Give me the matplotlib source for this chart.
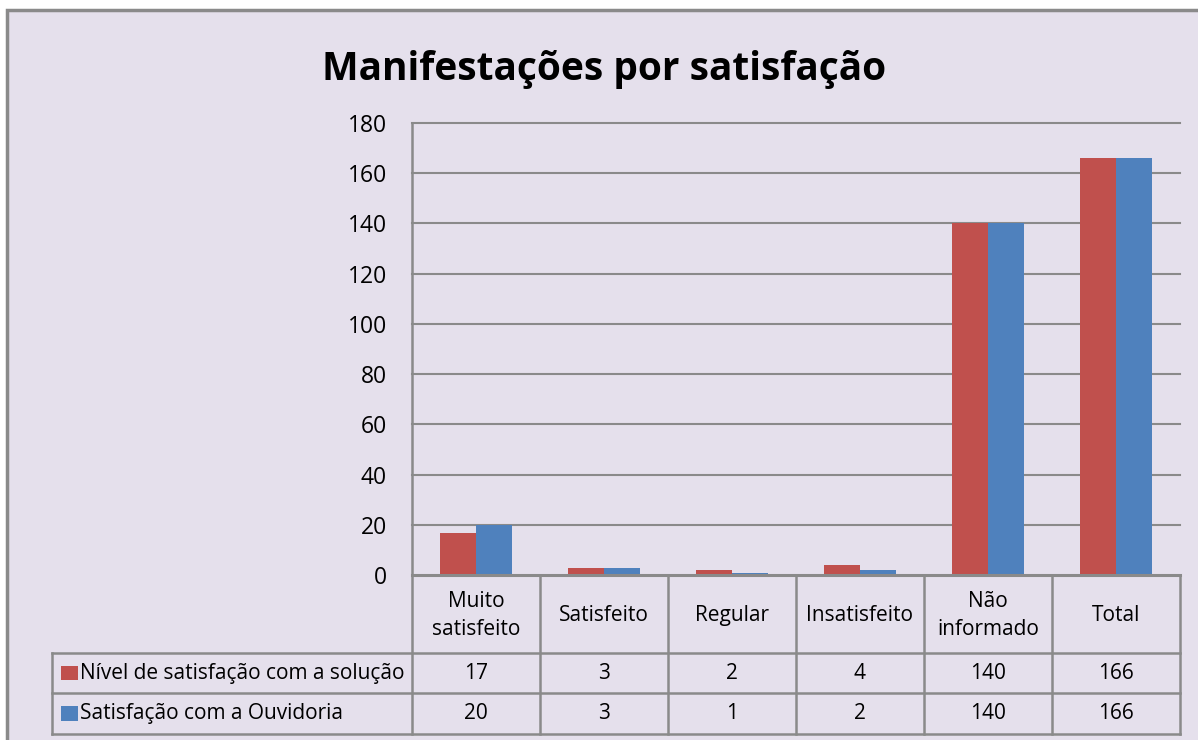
import matplotlib.pyplot as plt
import numpy as np
from matplotlib.patches import Rectangle

categorias = ['Muito\nsatisfeito', 'Satisfeito', 'Regular', 'Insatisfeito', 'Não\ninformado', 'Total']
series = ['Nível de satisfação com a solução', 'Satisfação com a Ouvidoria']
solucao = [17, 3, 2, 4, 140, 166]
ouvidoria = [20, 3, 1, 2, 140, 166]
cores = ['#C0504D', '#4F81BD']
yticks = list(range(0, 181, 20))

plt.rcParams['font.family'] = ['Open Sans', 'DejaVu Sans']

W, H = 1198, 740
fundo = '#E5E0EC'
cinza = '#8A8A8A'

fig = plt.figure(figsize=(W / 100, H / 100), dpi=100, facecolor='white')

# moldura do gráfico (estilo Excel)
fig.patches.append(Rectangle((7 / W, -0.02), 1.02 - 7 / W, 1.02 - 10 / H, transform=fig.transFigure,
                             facecolor=fundo, edgecolor=cinza, linewidth=2.5, zorder=-10))

fig.text(604 / W, 1 - 80 / H, 'Manifestações por satisfação', ha='center', va='baseline',
         fontsize=28, fontweight='bold')

# área do gráfico
ax = fig.add_axes([412 / W, 1 - 575.4 / H, 768 / W, 452.7 / H])
ax.set_facecolor('none')
x = np.arange(len(categorias))
w = 0.285
ax.bar(x - w / 2, solucao, w, color=cores[0], zorder=3)
ax.bar(x + w / 2, ouvidoria, w, color=cores[1], zorder=3)
for t in yticks[1:]:
    ax.axhline(t, color=cinza, lw=1.5, clip_on=False, zorder=1)
ax.set_xlim(-0.5, len(categorias) - 0.5)
ax.set_ylim(0, 180)
ax.set_yticks(yticks)
ax.set_xticks([])
ax.tick_params(axis='y', length=0, pad=18, labelsize=16.5)
for s in ['top', 'right']:
    ax.spines[s].set_visible(False)
ax.spines['left'].set_color(cinza)
ax.spines['left'].set_linewidth(1.8)
ax.spines['bottom'].set_color(cinza)
ax.spines['bottom'].set_linewidth(2.2)
ax.spines['bottom'].set_zorder(4)

# tabela de dados
esq = -3.3125
tax = fig.add_axes([52 / W, 1 - 734 / H, 1128 / W, 158 / H])
tax.set_xlim(esq, len(categorias) - 0.5)
tax.set_ylim(0, 3.9)
tax.axis('off')
for i in range(len(categorias) + 1):
    tax.plot([i - 0.5, i - 0.5], [0, 3.9], color=cinza, lw=1.8, clip_on=False)
for yy in [0, 1, 2]:
    tax.plot([esq, len(categorias) - 0.5], [yy, yy], color=cinza, lw=1.8, clip_on=False)
tax.plot([esq, esq], [0, 2], color=cinza, lw=1.8, clip_on=False)

fs = 15
for i, cat in enumerate(categorias):
    tax.text(i, 2.93, cat, ha='center', va='center', fontsize=fs, linespacing=1.45)
    tax.text(i, 1.5, str(solucao[i]), ha='center', va='center', fontsize=fs)
    tax.text(i, 0.5, str(ouvidoria[i]), ha='center', va='center', fontsize=fs)

for k, (nome, cor) in enumerate(zip(series, cores)):
    yc = 1.5 - k
    tax.add_patch(Rectangle((esq + 0.07, yc - 0.17), 0.13, 0.35, facecolor=cor, edgecolor='none'))
    tax.text(esq + 0.22, yc, nome, ha='left', va='center', fontsize=fs)

fig.savefig('out.png', dpi=100, facecolor='white')
